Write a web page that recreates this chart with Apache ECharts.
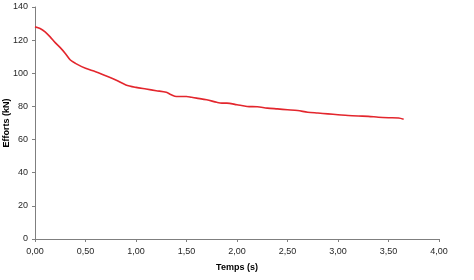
<!DOCTYPE html>
<html>
<head>
<meta charset="utf-8">
<script src="https://cdn.jsdelivr.net/npm/echarts@6/dist/echarts.min.js"></script>
<style>
  html, body { margin: 0; padding: 0; background: #fff; }
  #eCharts { width: 474px; height: 280px; }
</style>
</head>
<body>
<div id="eCharts"></div>
<script>
// temps (s) et efforts (kN)
var temps = [0, 0.05, 0.1, 0.15, 0.2, 0.25, 0.3, 0.35, 0.4, 0.5, 0.6, 0.7, 0.8, 0.9, 1.0, 1.1, 1.2, 1.3, 1.35, 1.4, 1.5, 1.55, 1.6, 1.7, 1.8, 1.85, 1.9, 2.0, 2.1, 2.2, 2.3, 2.4, 2.5, 2.6, 2.7, 2.8, 2.9, 3.0, 3.1, 3.2, 3.3, 3.4, 3.5, 3.6, 3.65];
var efforts = [128, 127, 125, 122, 118.5, 115.5, 112, 108, 106, 103, 101, 98.5, 96, 93, 91.5, 90.5, 89.5, 88.5, 87, 86, 86, 85.5, 85, 84, 82.5, 82, 82, 81, 80, 79.8, 79, 78.5, 78, 77.5, 76.5, 76, 75.5, 75, 74.5, 74.2, 74, 73.5, 73.2, 73, 72.3];

var myChart = echarts.init(document.getElementById('eCharts'));

var data = temps.map(function (t, i) { return [t, efforts[i]]; });

var axisColor = '#7f7f7f';
var labelColor = '#262626';
var fontFamily = 'Liberation Sans, Arial, sans-serif';

option = {
    animation: false,
    grid: { left: 35, right: 35, top: 7, bottom: 41, containLabel: false, outerBoundsMode: 'none' },
    xAxis: {
        type: 'value',
        min: 0, max: 4, interval: 0.5,
        name: 'Temps (s)',
        nameLocation: 'middle',
        nameGap: 24,
        nameTextStyle: { color: '#000', fontWeight: 'bold', fontSize: 9, fontFamily: fontFamily },
        axisLine: { lineStyle: { color: axisColor } },
        axisTick: { show: true, inside: false, length: 3, lineStyle: { color: axisColor } },
        axisLabel: {
            color: labelColor, fontSize: 9, fontFamily: fontFamily, margin: 8,
            formatter: function (v) { return v.toFixed(2).replace('.', ','); }
        },
        splitLine: { show: false }
    },
    yAxis: {
        type: 'value',
        min: 0, max: 140, interval: 20,
        name: 'Efforts (kN)',
        nameLocation: 'middle',
        nameGap: 24,
        nameMoveOverlap: false,
        nameTextStyle: { color: '#000', fontWeight: 'bold', fontSize: 9, fontFamily: fontFamily },
        axisLine: { show: true, lineStyle: { color: axisColor } },
        axisTick: { show: true, length: 3, lineStyle: { color: axisColor } },
        axisLabel: { color: labelColor, fontSize: 9, fontFamily: fontFamily, margin: 7 },
        splitLine: { show: false }
    },
    series: [{
        type: 'line',
        data: data,
        showSymbol: false,
        smooth: 0.3,
        lineStyle: { color: '#e3262d', width: 1.6 }
    }]
};

myChart.setOption(option);
</script>
</body>
</html>
